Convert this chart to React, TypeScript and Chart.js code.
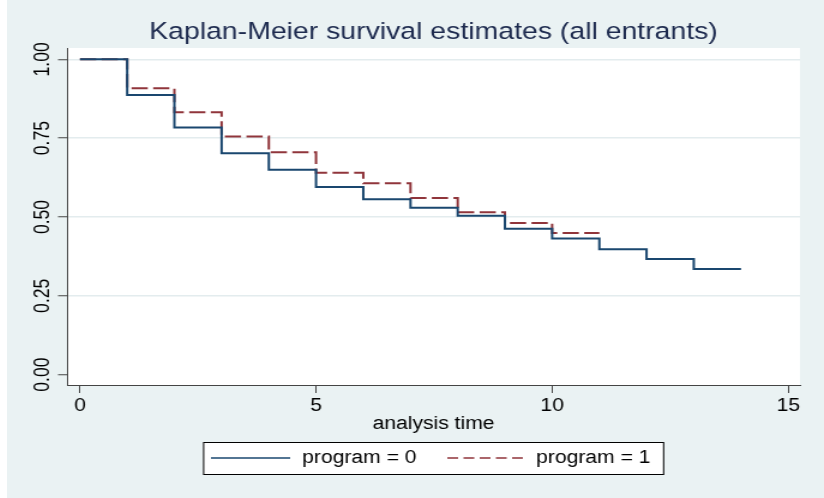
import { useEffect, useRef } from 'react';
import { Chart, registerables } from 'chart.js';

Chart.register(...registerables);

// Kaplan-Meier step estimates, one value per analysis time
const timePoints0 = [0, 1, 2, 3, 4, 5, 6, 7, 8, 9, 10, 11, 12, 13, 14];
const survival0 = [1, 0.887, 0.784, 0.702, 0.65, 0.595, 0.556, 0.529, 0.504, 0.463, 0.432, 0.398, 0.367, 0.335, 0.335];
const timePoints1 = [0, 1, 2, 3, 4, 5, 6, 7, 8, 9, 10, 11];
const survival1 = [1, 0.908, 0.832, 0.755, 0.705, 0.64, 0.607, 0.56, 0.515, 0.481, 0.449, 0.449];

const xTickValues = [0, 5, 10, 15];
const yTickValues = [0, 0.25, 0.5, 0.75, 1];
const seriesLabels = ['program = 0', 'program = 1'];
const chartTitle = 'Kaplan-Meier survival estimates (all entrants)';
const xAxisTitle = 'analysis time';

const NAVY = '#1a476f';
const MAROON = '#90353b';
const BG = '#eaf2f3';
const GRID = '#e3ecee';
const AXIS = '#444444';
const FONT = '"Liberation Sans", Arial, sans-serif';

// the graph is drawn at its native width and widened by CSS
const CANVAS_W = 681;
const CANVAS_H = 498;
const DISPLAY_W = 817;

const plotBackground = {
  id: 'plotBackground',
  beforeDraw(chart: any) {
    const { ctx, chartArea: a, width, height } = chart;
    ctx.save();
    ctx.fillStyle = BG;
    ctx.fillRect(0, 0, width, height);
    ctx.fillStyle = '#ffffff';
    ctx.fillRect(a.left, a.top, a.right - a.left, a.bottom - a.top);
    ctx.restore();
  },
};

// vertical tick labels on the y axis
const yTickText = {
  id: 'yTickText',
  afterDraw(chart: any) {
    const { ctx } = chart;
    const scale = chart.scales.y;
    ctx.save();
    ctx.font = `17.6px ${FONT}`;
    ctx.fillStyle = '#000000';
    ctx.textAlign = 'center';
    ctx.textBaseline = 'middle';
    scale.ticks.forEach((t: any) => {
      const py = scale.getPixelForValue(t.value);
      ctx.save();
      ctx.translate(30, py);
      ctx.rotate(-Math.PI / 2);
      ctx.fillText(Number(t.value).toFixed(2), 0, 0);
      ctx.restore();
    });
    ctx.restore();
  },
};

// boxed legend under the axis title
const boxedLegend = {
  id: 'boxedLegend',
  afterDraw(chart: any) {
    const { ctx } = chart;
    const sets = chart.data.datasets;
    const box = { left: 163.4, top: 442, right: 546.8, bottom: 474 };
    const midY = (box.top + box.bottom) / 2;
    const items = [
      { x0: 170, x1: 236, tx: 246 },
      { x0: 367, x1: 432, tx: 441 },
    ];
    ctx.save();
    ctx.fillStyle = '#ffffff';
    ctx.fillRect(box.left, box.top, box.right - box.left, box.bottom - box.top);
    ctx.strokeStyle = '#000000';
    ctx.lineWidth = 1;
    ctx.strokeRect(box.left + 0.5, box.top + 0.5, box.right - box.left, box.bottom - box.top);
    ctx.font = `17.6px ${FONT}`;
    ctx.textAlign = 'left';
    ctx.textBaseline = 'middle';
    items.forEach((it, i) => {
      const ds = sets[i];
      ctx.beginPath();
      ctx.strokeStyle = ds.borderColor;
      ctx.lineWidth = 1.6;
      ctx.setLineDash(i === 1 ? [9, 4.5] : []);
      ctx.moveTo(it.x0, midY);
      ctx.lineTo(it.x1, midY);
      ctx.stroke();
      ctx.setLineDash([]);
      ctx.fillStyle = '#000000';
      ctx.fillText(ds.label, it.tx, midY);
    });
    ctx.restore();
  },
};

export default function App() {
  const canvasRef = useRef<HTMLCanvasElement | null>(null);

  useEffect(() => {
    const canvas = canvasRef.current;
    if (!canvas) return;
    const chart = new Chart(canvas, {
      type: 'line',
      data: {
        datasets: [
          {
            label: seriesLabels[0],
            data: timePoints0.map((t, i) => ({ x: t, y: survival0[i] })),
            borderColor: NAVY,
            backgroundColor: NAVY,
            borderWidth: 2,
            stepped: 'before',
            pointRadius: 0,
            fill: false,
          },
          {
            label: seriesLabels[1],
            data: timePoints1.map((t, i) => ({ x: t, y: survival1[i] })),
            borderColor: MAROON,
            backgroundColor: MAROON,
            borderWidth: 2,
            borderDash: [13.5, 4.5],
            stepped: 'before',
            pointRadius: 0,
            fill: false,
          },
        ],
      },
      options: {
        responsive: false,
        animation: false,
        devicePixelRatio: 1,
        events: [],
        layout: { padding: { left: 0, right: 20, top: 0, bottom: 63 } },
        plugins: {
          legend: { display: false },
          tooltip: { enabled: false },
          title: {
            display: true,
            fullSize: false,
            text: chartTitle,
            color: '#1e2b4f',
            font: { family: FONT, size: 23.7, weight: 'normal', lineHeight: 1 },
            padding: { top: 20.2, bottom: 4.1 },
          },
        },
        scales: {
          x: {
            type: 'linear',
            min: -0.275,
            max: 15.25,
            afterBuildTicks: (s: any) => {
              s.ticks = xTickValues.map((v) => ({ value: v }));
            },
            afterFit: (s: any) => {
              s.height = 50;
            },
            grid: { drawOnChartArea: false, drawTicks: true, tickLength: 8, tickColor: AXIS, tickWidth: 1 },
            border: { display: true, color: AXIS, width: 1 },
            ticks: {
              color: '#000000',
              font: { family: FONT, size: 17.6 },
              padding: 3,
              maxRotation: 0,
              autoSkip: false,
            },
            title: {
              display: true,
              text: xAxisTitle,
              color: '#000000',
              font: { family: FONT, size: 17.6, lineHeight: 1.2 },
              padding: { top: 0, bottom: 0 },
            },
          },
          y: {
            type: 'linear',
            min: -0.033,
            max: 1.036,
            afterBuildTicks: (s: any) => {
              s.ticks = yTickValues.map((v) => ({ value: v }));
            },
            afterFit: (s: any) => {
              s.width = 50;
            },
            grid: {
              color: (c: any) => (c.tick && c.tick.value === 0 ? 'rgba(0,0,0,0)' : GRID),
              lineWidth: 1.5,
              drawTicks: true,
              tickLength: 7.5,
              tickColor: AXIS,
              tickWidth: 1,
            },
            border: { display: true, color: AXIS, width: 1 },
            ticks: { display: false },
          },
        },
      },
      plugins: [plotBackground, yTickText, boxedLegend],
    } as any);
    return () => chart.destroy();
  }, []);

  return (
    <div
      style={{
        position: 'fixed',
        left: 0,
        top: 0,
        width: 824,
        height: 498,
        background: '#ffffff',
        overflow: 'hidden',
      }}
    >
      <canvas
        ref={canvasRef}
        width={CANVAS_W}
        height={CANVAS_H}
        style={{ position: 'absolute', left: 7, top: 0, width: `${DISPLAY_W}px`, height: `${CANVAS_H}px` }}
      />
    </div>
  );
}
